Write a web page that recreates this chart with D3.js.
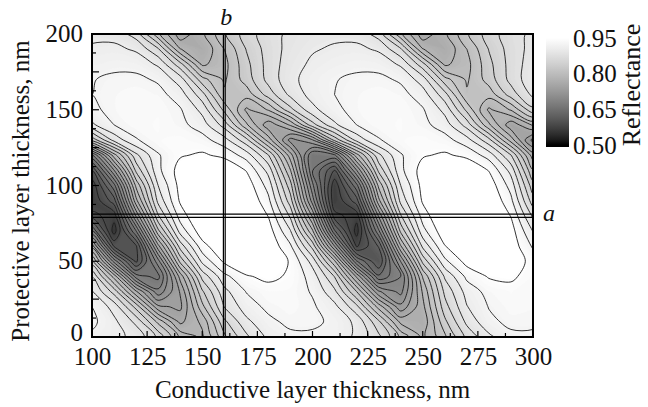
<!DOCTYPE html>
<html>
<head>
<meta charset="utf-8">
<script src="https://cdn.jsdelivr.net/npm/d3@7"></script>
<style>
  html, body { margin: 0; padding: 0; background: #fff; }
  svg { display: block; }
  text { font-family: "Liberation Serif", "Times New Roman", serif; fill: #111; }
</style>
</head>
<body>
<svg id="chart" width="648" height="407"></svg>
<script>
// Sample grid: conductive layer thickness (columns) x protective layer thickness (rows), nm
const conductive = [100, 110, 120, 130, 140, 150, 160, 170, 180, 190, 200, 210, 220, 230, 240, 250, 260, 270, 280, 290, 300];
const protective = [0, 10, 20, 30, 40, 50, 60, 70, 80, 90, 100, 110, 120, 130, 140, 150, 160, 170, 180, 190, 200];

// Reflectance, one row per protective thickness (0 nm first)
const reflectance = [
  [0.920,0.910,0.900,0.860,0.800,0.780,0.840,0.880,0.910,0.920,0.920,0.920,0.900,0.870,0.820,0.780,0.820,0.870,0.900,0.920,0.920],
  [0.930,0.910,0.880,0.820,0.760,0.790,0.860,0.900,0.920,0.930,0.930,0.920,0.900,0.850,0.780,0.770,0.840,0.890,0.920,0.930,0.930],
  [0.925,0.897,0.838,0.750,0.740,0.819,0.886,0.915,0.930,0.935,0.928,0.911,0.871,0.797,0.731,0.779,0.857,0.904,0.926,0.935,0.933],
  [0.907,0.857,0.768,0.691,0.747,0.842,0.899,0.926,0.937,0.936,0.923,0.890,0.825,0.728,0.698,0.788,0.870,0.913,0.932,0.938,0.932],
  [0.884,0.797,0.675,0.658,0.773,0.872,0.919,0.943,0.950,0.942,0.916,0.864,0.761,0.649,0.685,0.807,0.888,0.930,0.947,0.949,0.936],
  [0.831,0.697,0.600,0.697,0.831,0.910,0.949,0.964,0.962,0.943,0.897,0.809,0.667,0.605,0.726,0.851,0.920,0.953,0.965,0.960,0.937],
  [0.755,0.602,0.602,0.759,0.874,0.937,0.965,0.972,0.961,0.928,0.858,0.725,0.582,0.627,0.783,0.890,0.944,0.967,0.971,0.958,0.922],
  [0.664,0.555,0.665,0.820,0.913,0.958,0.976,0.975,0.955,0.906,0.808,0.648,0.556,0.681,0.830,0.918,0.960,0.976,0.975,0.954,0.904],
  [0.593,0.573,0.728,0.863,0.934,0.969,0.980,0.973,0.944,0.881,0.761,0.593,0.573,0.728,0.863,0.934,0.969,0.980,0.973,0.944,0.881],
  [0.567,0.616,0.779,0.891,0.948,0.975,0.980,0.966,0.930,0.854,0.715,0.567,0.616,0.779,0.891,0.948,0.975,0.980,0.966,0.930,0.854],
  [0.571,0.658,0.810,0.905,0.952,0.972,0.973,0.958,0.917,0.833,0.690,0.571,0.658,0.810,0.905,0.952,0.972,0.973,0.958,0.917,0.833],
  [0.605,0.724,0.850,0.920,0.954,0.967,0.964,0.944,0.898,0.806,0.666,0.605,0.724,0.850,0.920,0.954,0.967,0.964,0.944,0.898,0.806],
  [0.680,0.796,0.880,0.923,0.943,0.948,0.940,0.916,0.866,0.774,0.666,0.680,0.796,0.880,0.923,0.943,0.948,0.940,0.916,0.866,0.774],
  [0.831,0.892,0.923,0.937,0.940,0.933,0.913,0.872,0.796,0.717,0.743,0.831,0.892,0.923,0.937,0.940,0.933,0.913,0.872,0.796,0.717],
  [0.901,0.925,0.936,0.938,0.931,0.915,0.877,0.809,0.751,0.788,0.857,0.901,0.925,0.936,0.938,0.931,0.915,0.877,0.809,0.751,0.788],
  [0.920,0.932,0.937,0.937,0.927,0.899,0.840,0.781,0.807,0.859,0.899,0.920,0.932,0.937,0.937,0.927,0.899,0.840,0.781,0.807,0.859],
  [0.925,0.932,0.935,0.932,0.915,0.873,0.808,0.813,0.854,0.890,0.913,0.925,0.932,0.935,0.932,0.915,0.873,0.808,0.813,0.854,0.890],
  [0.924,0.929,0.930,0.922,0.895,0.833,0.802,0.834,0.872,0.899,0.915,0.924,0.929,0.930,0.922,0.895,0.833,0.802,0.834,0.872,0.899],
  [0.916,0.920,0.918,0.902,0.853,0.781,0.798,0.839,0.873,0.896,0.909,0.916,0.920,0.918,0.902,0.853,0.781,0.798,0.839,0.873,0.896],
  [0.908,0.910,0.902,0.868,0.786,0.767,0.805,0.846,0.874,0.892,0.903,0.908,0.910,0.902,0.868,0.786,0.767,0.805,0.846,0.874,0.892],
  [0.900,0.898,0.876,0.809,0.751,0.780,0.822,0.855,0.876,0.890,0.896,0.900,0.898,0.876,0.809,0.751,0.780,0.822,0.855,0.876,0.890]
];

const xTickLabels = [100, 125, 150, 175, 200, 225, 250, 275, 300];
const yTickLabels = [0, 50, 100, 150, 200];
const colorbarLabels = [0.50, 0.65, 0.80, 0.95];
const isoLevels = [0.565,0.585,0.605,0.625,0.645,0.665,0.685,0.705,0.725,0.745,0.765,0.785,0.805,0.825,0.845,0.865,0.885,0.905,0.925,0.945];
const cutA = 80;   // protective thickness of cut "a", nm
const cutB = 160;  // conductive thickness of cut "b", nm

const svg = d3.select("#chart");
const plot = { left: 92, right: 533, top: 34, bottom: 337 };

const x = d3.scaleLinear().domain([100, 300]).range([plot.left, plot.right]);
const y = d3.scaleLinear().domain([0, 200]).range([plot.bottom, plot.top]);

// grey ramp: 0.50 black -> 0.95 white, slightly lifted mid-tones
const greyOf = v => {
  const t = Math.max(0, Math.min(1, (v - 0.50) / 0.45));
  const g = Math.round(255 * Math.pow(t, 0.75));
  return `rgb(${g},${g},${g})`;
};

const nx = conductive.length, ny = protective.length;
const values = reflectance.flat();
const stepX = conductive[1] - conductive[0];
const stepY = protective[1] - protective[0];

// contour grid coordinates -> pixels (sample i sits at i + 0.5)
const toPx = ([gx, gy]) => [
  x(conductive[0] + (gx - 0.5) * stepX),
  y(protective[0] + (gy - 0.5) * stepY)
];
// rings drawn as closed centripetal Catmull-Rom curves
const ringLine = d3.line().curve(d3.curveCatmullRomClosed.alpha(0.5));
const smoothPath = geom => geom.coordinates
  .map(poly => poly.map(ring => ringLine(ring.slice(0, -1).map(toPx))).join(""))
  .join("");

const defs = svg.append("defs");
defs.append("clipPath").attr("id", "plotClip")
  .append("rect")
  .attr("x", plot.left).attr("y", plot.top)
  .attr("width", plot.right - plot.left).attr("height", plot.bottom - plot.top);

const field = svg.append("g").attr("clip-path", "url(#plotClip)");

// shaded field: fine filled bands
const fillLevels = d3.range(0.5025, 1.0, 0.005);
const bands = d3.contours().size([nx, ny]).thresholds(fillLevels)(values);
field.selectAll("path.band")
  .data(bands.filter(b => b.coordinates.length))
  .join("path")
  .attr("class", "band")
  .attr("d", smoothPath)
  .attr("fill-rule", "evenodd")
  .attr("fill", d => greyOf(d.value + 0.0025))
  .attr("stroke", d => greyOf(d.value + 0.0025))
  .attr("stroke-width", 0.4);

// iso-reflectance lines
const isolines = d3.contours().size([nx, ny]).thresholds(isoLevels)(values);
field.selectAll("path.iso")
  .data(isolines.filter(b => b.coordinates.length))
  .join("path")
  .attr("class", "iso")
  .attr("d", smoothPath)
  .attr("fill", "none")
  .attr("stroke", "#1c1c1c")
  .attr("stroke-width", 0.9)
  .attr("stroke-linejoin", "round");

// cut lines a (horizontal, double) and b (vertical)
const cuts = svg.append("g").attr("stroke", "#000");
[-1.6, 1.6].forEach(off => {
  cuts.append("line")
    .attr("x1", plot.left).attr("x2", plot.right)
    .attr("y1", y(cutA) + off).attr("y2", y(cutA) + off)
    .attr("stroke-width", 1.3);
});
[-0.9, 0.9].forEach(off => {
  cuts.append("line")
    .attr("x1", x(cutB) + off).attr("x2", x(cutB) + off)
    .attr("y1", plot.top).attr("y2", plot.bottom)
    .attr("stroke-width", 1.2);
});

// inward ticks: major every 25 nm, minor every 12.5 nm
const xMinor = d3.range(100, 300.01, 12.5);
const yMinor = d3.range(0, 200.01, 12.5);
const ticks = svg.append("g").attr("stroke", "#000").attr("stroke-width", 1.2);
xMinor.forEach(v => {
  const len = (v % 25 === 0) ? 6 : 4;
  ticks.append("line").attr("x1", x(v)).attr("x2", x(v))
    .attr("y1", plot.bottom).attr("y2", plot.bottom - len);
});
yMinor.forEach(v => {
  const len = (v % 25 === 0) ? 7 : 4;
  ticks.append("line").attr("x1", plot.left).attr("x2", plot.left + len)
    .attr("y1", y(v)).attr("y2", y(v));
});

// frame
svg.append("rect")
  .attr("x", plot.left).attr("y", plot.top)
  .attr("width", plot.right - plot.left).attr("height", plot.bottom - plot.top)
  .attr("fill", "none").attr("stroke", "#000").attr("stroke-width", 2);

// tick labels via axes
const xAxis = svg.append("g")
  .attr("transform", `translate(0,${plot.bottom})`)
  .call(d3.axisBottom(x).tickValues(xTickLabels).tickSize(0).tickPadding(10).tickFormat(d3.format("d")));
const yAxis = svg.append("g")
  .attr("transform", `translate(${plot.left},0)`)
  .call(d3.axisLeft(y).tickValues(yTickLabels).tickSize(0).tickPadding(9).tickFormat(d3.format("d")));
[xAxis, yAxis].forEach(g => {
  g.attr("font-family", null).attr("font-size", null);
  g.select(".domain").remove();
  g.selectAll("text")
    .style("font-family", "'Liberation Serif', 'Times New Roman', serif")
    .style("font-size", "25px")
    .attr("fill", "#111");
});
yAxis.selectAll("text").attr("dy", d => d === 0 ? "0.12em" : "0.3em");

// axis titles
svg.append("text")
  .attr("x", (plot.left + plot.right) / 2).attr("y", 398)
  .attr("text-anchor", "middle").attr("font-size", 25)
  .text("Conductive layer thickness, nm");
svg.append("text")
  .attr("transform", "translate(29,191) rotate(-90)")
  .attr("text-anchor", "middle").attr("font-size", 25)
  .text("Protective layer thickness, nm");

// cut labels
svg.append("text")
  .attr("x", x(cutB) + 2).attr("y", 25)
  .attr("text-anchor", "middle").attr("font-size", 24).attr("font-style", "italic")
  .text("b");
svg.append("text")
  .attr("x", 543).attr("y", y(cutA) + 5)
  .attr("font-size", 24).attr("font-style", "italic")
  .text("a");

// colour bar
const cb = d3.scaleLinear().domain([0.50, 0.95]).range([145, 38]);
const grad = defs.append("linearGradient")
  .attr("id", "cbGrad").attr("gradientUnits", "userSpaceOnUse")
  .attr("x1", 0).attr("x2", 0).attr("y1", cb(0.50)).attr("y2", cb(0.95));
d3.range(0, 1.0001, 0.05).forEach(t => {
  grad.append("stop").attr("offset", t).attr("stop-color", greyOf(0.50 + t * 0.45));
});
svg.append("rect")
  .attr("x", 546).attr("y", 37).attr("width", 23).attr("height", 110)
  .attr("fill", "url(#cbGrad)");
svg.append("g").selectAll("text")
  .data(colorbarLabels)
  .join("text")
  .attr("x", 573).attr("y", d => cb(d))
  .attr("dy", "0.35em").attr("font-size", 25)
  .text(d => d3.format(".2f")(d));
svg.append("text")
  .attr("transform", "translate(640,85) rotate(-90)")
  .attr("text-anchor", "middle").attr("font-size", 26)
  .text("Reflectance");
</script>
</body>
</html>
